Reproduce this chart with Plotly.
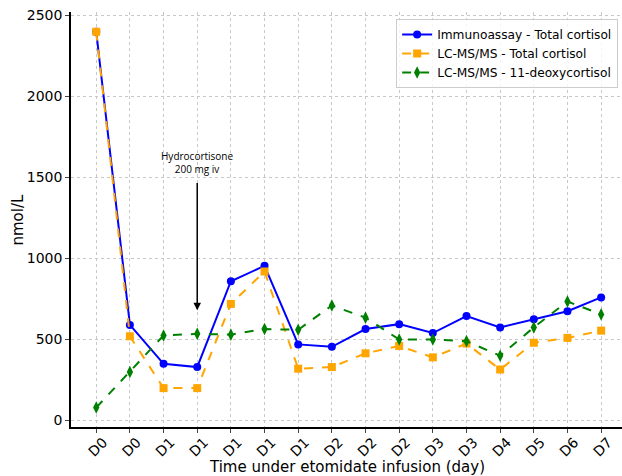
import plotly.graph_objects as go

categories = ["D0", "D0", "D1", "D1", "D1", "D1", "D1", "D2", "D2", "D2", "D3", "D3", "D4", "D5", "D6", "D7"]
immunoassay_total = [2400, 590, 350, 330, 860, 955, 470, 455, 565, 595, 540, 645, 575, 625, 675, 760]
lcms_total = [2400, 520, 200, 200, 720, 920, 320, 330, 415, 460, 390, 475, 315, 480, 510, 555]
lcms_deoxy = [80, 300, 525, 535, 530, 565, 560, 710, 635, 500, 500, 490, 400, 575, 735, 655]

x = list(range(len(categories)))
FONT = "DejaVu Sans"

fig = go.Figure()
fig.add_trace(go.Scatter(x=x, y=immunoassay_total, mode="lines+markers",
                         name="Immunoassay - Total cortisol",
                         line=dict(color="#0000ff", width=2),
                         marker=dict(symbol="circle", size=8, color="#0000ff")))
fig.add_trace(go.Scatter(x=x, y=lcms_total, mode="lines+markers",
                         name="LC-MS/MS - Total cortisol",
                         line=dict(color="#ffa500", width=2, dash="dash"),
                         marker=dict(symbol="square", size=8, color="#ffa500")))
fig.add_trace(go.Scatter(x=x, y=lcms_deoxy, mode="lines+markers",
                         name="LC-MS/MS - 11-deoxycortisol",
                         line=dict(color="#008000", width=2, dash="dash"),
                         marker=dict(symbol="diamond-tall", size=9, color="#008000")))

fig.add_annotation(x=3, y=680, ax=3, ay=1475, xref="x", yref="y", axref="x", ayref="y",
                   text="", showarrow=True, arrowhead=2, arrowsize=1, arrowwidth=1.5,
                   arrowcolor="black")
fig.add_annotation(x=3, y=1475, xref="x", yref="y", yanchor="bottom", yshift=4,
                   text="Hydrocortisone<br>200 mg iv", showarrow=False,
                   font=dict(family="Open Sans", size=10, color="black"))

# axis titles
fig.add_annotation(x=0.5, y=0, xref="paper", yref="paper", xanchor="center", yanchor="middle",
                   yshift=-40, text="Time under etomidate infusion (day)", showarrow=False,
                   font=dict(family=FONT, size=15, color="black"))
fig.add_annotation(x=0, y=0.5, xref="paper", yref="paper", xanchor="center", yanchor="middle",
                   xshift=-54, textangle=-90, text="nmol/L", showarrow=False,
                   font=dict(family=FONT, size=15, color="black"))

fig.update_layout(
    width=622, height=476,
    margin=dict(l=71, r=0, t=12, b=49),
    paper_bgcolor="white", plot_bgcolor="white",
    font=dict(family=FONT, size=14, color="black"),
    legend=dict(x=0.993, y=0.983, xanchor="right", yanchor="top",
                bgcolor="rgba(255,255,255,0.8)", bordercolor="#cccccc", borderwidth=1,
                font=dict(family=FONT, size=12.2), tracegroupgap=0, itemwidth=30),
    showlegend=True,
)
fig.update_xaxes(range=[-0.75, 15.62], tickmode="array", tickvals=x, ticktext=categories,
                 tickangle=-45, ticklabelshift=7, ticklabelstandoff=-4, automargin=False,
                 showgrid=True, gridcolor="#c8c8c8", griddash="dot", gridwidth=1,
                 showline=True, linecolor="black", linewidth=1.5, ticks="outside", ticklen=4,
                 zeroline=False)
fig.update_yaxes(range=[-40, 2522], tickvals=[0, 500, 1000, 1500, 2000, 2500], automargin=False,
                 showgrid=True, gridcolor="#c8c8c8", griddash="dot", gridwidth=1,
                 showline=True, linecolor="black", linewidth=1.5, ticks="outside", ticklen=4,
                 zeroline=False)

fig.write_html("out.html", config={"displayModeBar": False},
               post_script="document.body.style.margin='0';document.body.style.overflow='hidden';")
